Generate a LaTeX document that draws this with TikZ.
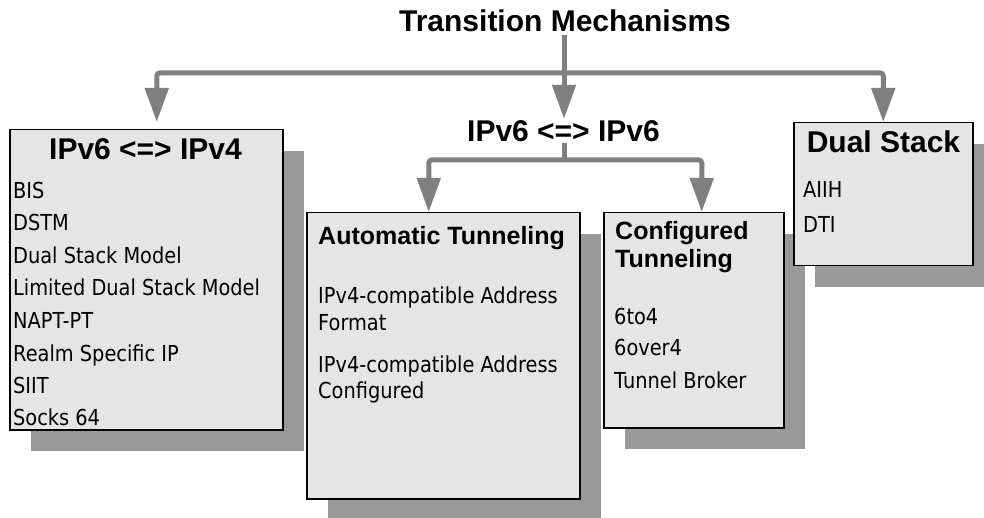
\documentclass[tikz,border=0pt]{standalone}
\usepackage{fontspec}
\setmainfont{Liberation Sans}
\newfontfamily\headfont{Liberation Sans}
\newfontfamily\itemfont[FakeStretch=0.88]{DejaVu Sans}
\usetikzlibrary{arrows.meta,calc,shadows}
\definecolor{arrgray}{RGB}{128,128,128}
\definecolor{shadgray}{RGB}{153,153,153}
\definecolor{boxfill}{RGB}{229,229,229}
\begin{document}
\begin{tikzpicture}[x=1pt,y=-1pt,
  box/.style={draw=black, line width=1.5pt, fill=boxfill, inner sep=0pt, anchor=north west,
    drop shadow={shadow xshift=21pt, shadow yshift=-21pt, fill=shadgray, opacity=1}},
  bighead/.style={font=\headfont\bfseries\fontsize{30}{36}\selectfont, inner sep=0pt, anchor=base},
  subhead/.style={font=\headfont\bfseries\fontsize{25}{30}\selectfont, inner sep=0pt, anchor=base west},
  item/.style={font=\itemfont\fontsize{22}{26}\selectfont, inner sep=0pt, anchor=base west},
  conn/.style={draw=arrgray, line width=5pt, rounded corners=3pt},
  arr/.style={conn, -{Triangle[width=23pt,length=34pt]}}
]
\useasboundingbox (0,0) rectangle (984,518);

% boxes
\node[box, minimum width=273pt, minimum height=300pt] (L) at (9,129) {};
\node[box, minimum width=273pt, minimum height=286pt] (A) at (306,212) {};
\node[box, minimum width=180pt, minimum height=215pt] (C) at (603,212) {};
\node[box, minimum width=179pt, minimum height=143pt] (D) at (793,122) {};

% headings
\node[bighead] (tm) at (565,32) {Transition Mechanisms};
\node[bighead] (v6) at (563.5,142) {IPv6 <=> IPv6};
\coordinate (J) at (564,73);
\coordinate (J2) at (564,160);

% left box text
\node[bighead] (Lt) at (145.5,160) {IPv6 <=> IPv4};
\node[item] (L1) at (13,199) {BIS};
\node[item] (L2) at (13,231) {DSTM};
\node[item] (L3) at (13,264) {Dual Stack Model};
\node[item] (L4) at (13,296) {Limited Dual Stack Model};
\node[item] (L5) at (13,328) {NAPT-PT};
\node[item] (L6) at (13,361) {Realm Specific IP};
\node[item] (L7) at (13,393) {SIIT};
\node[item] (L8) at (13,425) {Socks 64};

% automatic tunneling
\node[subhead] (At) at (318,245) {Automatic Tunneling};
\node[item] (A1) at (318,303) {IPv4-compatible Address};
\node[item] (A2) at (318,330) {Format};
\node[item] (A3) at (318,372) {IPv4-compatible Address};
\node[item] (A4) at (318,398) {Configured};

% configured tunneling
\node[subhead] (Ct1) at (615,240) {Configured};
\node[subhead] (Ct2) at (615,268) {Tunneling};
\node[item] (C1) at (614,324) {6to4};
\node[item] (C2) at (614,355) {6over4};
\node[item] (C3) at (614,388) {Tunnel Broker};

% dual stack
\node[bighead] (Dt) at (883.5,153) {Dual Stack};
\node[item] (D1) at (803,198) {AIIH};
\node[item] (D2) at (803,233) {DTI};

% connectors
\draw[arr, shorten <=3pt, shorten >=2pt] (tm.south -| J) -- (v6.north -| J);
\draw[arr, shorten >=7pt] (J) -| ([xshift=10.5pt]L.north);
\draw[arr] (J) -| (D.north);
\draw[conn, shorten <=1pt] (v6.south -| J2) -- (J2);
\draw[arr] (J2) -| ([xshift=-14.5pt]A.north);
\draw[arr] (J2) -| ([xshift=8pt]C.north);
\end{tikzpicture}
\end{document}
